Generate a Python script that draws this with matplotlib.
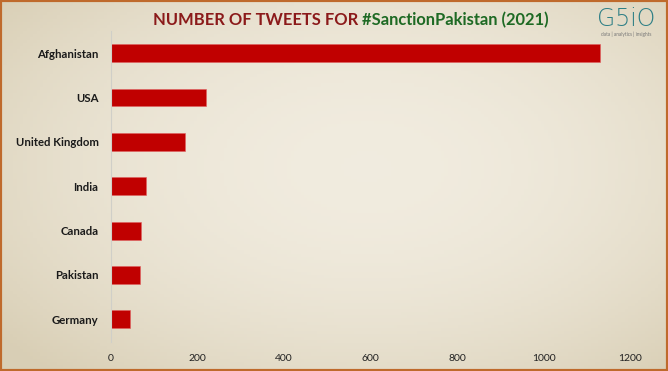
import matplotlib
matplotlib.use("Agg")
import matplotlib.pyplot as plt
import numpy as np
from matplotlib.patches import Rectangle

countries = ["Afghanistan", "USA", "United Kingdom", "India", "Canada", "Pakistan", "Germany"]
tweets = [1131, 220, 170, 82, 70, 68, 44]
xticks = [0, 200, 400, 600, 800, 1000, 1200]

plt.rcParams['font.family'] = ['Lato', 'DejaVu Sans']

W, H = 668, 371
fig = plt.figure(figsize=(W / 100, H / 100), dpi=100)

# parchment background
bg = fig.add_axes([0, 0, 1, 1], zorder=0)
yy, xx = np.mgrid[0:1:120j, 0:1:200j]
d = np.sqrt(((xx - 0.55) / 0.7) ** 2 + ((yy - 0.55) / 0.75) ** 2)
base = np.array([0.945, 0.925, 0.875])
edge = np.array([0.85, 0.81, 0.71])
t = np.clip(d, 0, 1)[..., None] ** 2
img = base * (1 - t) + edge * t
bg.imshow(img, extent=[0, 1, 0, 1], aspect='auto', origin='lower')
bg.add_patch(Rectangle((0, 0), 1, 1, transform=bg.transAxes, fill=False,
                       edgecolor='#bf6a2c', linewidth=3))
bg.set_xlim(0, 1); bg.set_ylim(0, 1)
bg.axis('off')

ax = fig.add_axes([111 / W, 1 - 341.5 / H, (630 - 111) / W, (341.5 - 31.1) / H], zorder=1)
ax.patch.set_alpha(0)
ypos = np.arange(len(countries))
ax.barh(ypos, tweets, height=0.4, color='#c00000', edgecolor='#e06060', linewidth=0.4)
ax.set_ylim(len(countries) - 0.5, -0.5)
ax.set_xlim(0, 1200)
ax.set_yticks(ypos)
ax.set_yticklabels(countries, fontsize=8.2, fontweight='bold', color='#1a1a1a')
ax.set_xticks(xticks)
ax.set_xticklabels([str(v) for v in xticks], fontsize=7.5, color='#222222')
ax.tick_params(axis='both', length=0)
ax.tick_params(axis='y', pad=9)
ax.tick_params(axis='x', pad=9)
for s in ['top', 'right', 'bottom']:
    ax.spines[s].set_visible(False)
ax.spines['left'].set_color('#d0cfc8')
ax.spines['left'].set_linewidth(0.8)

# title in two colours
fs = 11.9
t1 = fig.text(153 / W, 1 - 20 / H, "NUMBER OF TWEETS FOR ", fontsize=fs, fontweight='bold',
              color='#8b1a1a', va='center', ha='left')
fig.canvas.draw()
bb = t1.get_window_extent()
fig.text(bb.x1 / W, 1 - 20 / H, "#SanctionPakistan (2021)", fontsize=fs, fontweight='bold',
         color='#1e6a24', va='center', ha='left')

# logo
fig.text(626 / W, 1 - 19.5 / H, "G5iO", fontsize=17, color='#2e7f86', va='center', ha='center',
         family=['DejaVu Sans'], fontweight='light')
fig.text(626 / W, 1 - 34 / H, "data | analytics | insights", fontsize=3.4, color='#777777',
         va='center', ha='center')

fig.savefig("out.png", dpi=100)
